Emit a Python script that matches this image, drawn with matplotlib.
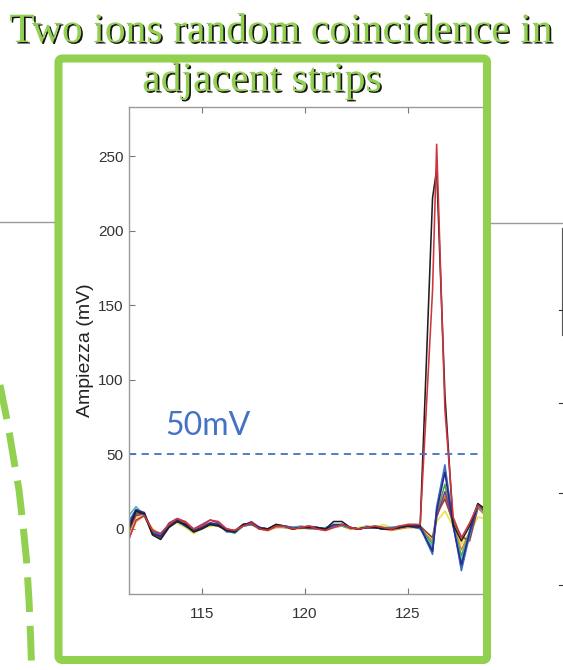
import matplotlib
matplotlib.use('Agg')
import matplotlib.pyplot as plt
from matplotlib.patches import FancyBboxPatch
import matplotlib.patheffects as pe

# ---------------- data ----------------
t = [111.4, 111.8, 112.2, 112.6, 113.0, 113.4, 113.8, 114.2, 114.6, 115.0,
     115.4, 115.8, 116.2, 116.6, 117.0, 117.4, 117.8, 118.2, 118.6, 119.0,
     119.4, 119.8, 120.2, 120.6, 121.0, 121.4, 121.8, 122.2, 122.6, 123.0,
     123.4, 123.8, 124.2, 124.6, 125.0, 125.4,
     125.6, 126.2, 126.4, 126.8, 127.2, 127.6, 128.0, 128.4, 128.7]

red = [-9, 6, 9, -1, -3, 3, 7, 5, 0, 2, 6, 5, 0, -1, 2, 4, 0, -1, 2, 2, 0, 1, 2, 0, -1, 1, 3, 1, 0, 1, 2, 1, 0, 2, 3, 3,
       3, 160, 258, 80, 8, -6, 4, 16, 12]
black = [-2, 12, 10, -4, -7, 1, 5, 3, -2, 0, 3, 2, -1, -2, 3, 4, 0, 0, 3, 2, 0, 1, 1, 1, 0, 5, 5, 1, 0, 1, 1, 0, 0, 1, 2, 2,
         2, 222, 241, 90, 3, -8, 2, 17, 14]
navy = [1, 13, 11, -3, -5, 2, 6, 2, -1, 1, 4, 3, -1, -2, 3, 4, 1, 0, 3, 2, 0, 1, 1, 1, 0, 3, 3, 1, 0, 1, 1, 0, 0, 1, 2, 1,
        1, -15, 12, 38, 2, -24, -2, 16, 13]
blue = [4, 13, 10, -2, -4, 2, 5, 2, -2, 1, 3, 3, -2, -2, 2, 3, 1, 0, 2, 2, 1, 1, 1, 0, 0, 2, 3, 1, 0, 1, 1, 0, 1, 1, 2, 1,
        1, -17, 15, 43, 3, -28, -4, 17, 12]
cyan = [8, 15, 9, -3, -3, 3, 5, 2, -1, 2, 4, 3, -1, -3, 2, 4, 0, 0, 3, 1, 1, 2, 1, 0, 1, 2, 2, 1, 0, 2, 1, 1, 1, 2, 2, 1,
        0, -12, 13, 40, 4, -22, -1, 15, 11]
yellow = [-5, 8, 8, -1, -3, 2, 4, 1, -3, 0, 2, 2, -1, -1, 2, 3, 0, -1, 2, 1, 0, 0, 1, 0, 0, 1, 2, 0, 1, 2, 1, 3, 1, 1, 1, 1,
          0, -5, 5, 12, 2, -10, -3, 8, 7]
green = [2, 11, 10, -2, -4, 3, 6, 3, -1, 1, 3, 3, 0, -2, 2, 3, 1, 0, 2, 2, 1, 1, 1, 1, 0, 2, 2, 1, 0, 1, 2, 1, 0, 1, 2, 1,
         1, -10, 10, 30, 2, -18, -2, 15, 12]
orange = [-8, 5, 9, 0, -4, 2, 5, 3, -1, 1, 3, 2, -1, -1, 2, 3, 0, -1, 1, 1, 0, 1, 0, 0, -1, 1, 2, 0, 0, 1, 1, 0, -1, 0, 1, 1,
          0, -8, 8, 22, 3, -14, -2, 14, 10]
purple = [-1, 9, 10, -2, -5, 4, 7, 4, 0, 3, 6, 4, 0, -2, 2, 5, 1, 0, 2, 2, 1, 1, 2, 1, 0, 2, 3, 1, 0, 1, 1, 0, 0, 1, 2, 2,
          2, -14, 8, 25, 5, -26, -3, 16, 12]
brown = [-4, 10, 11, -3, -6, 2, 6, 3, -1, 1, 4, 3, 0, -1, 3, 4, 0, 0, 2, 2, 0, 1, 1, 0, 0, 2, 3, 1, 0, 1, 1, 0, 0, 1, 3, 3,
         2, -6, 10, 20, 5, -5, -8, 14, 13]

series = [yellow, orange, green, brown, purple, cyan, blue, navy, black, red]
colors = ['#e6e34a', '#e0892a', '#4aa84a', '#8a4a3a', '#8a3a8a',
          '#3fb8c8', '#3a6fc4', '#2a2a8a', '#1e1e1e', '#d0343f']

xticks = [115, 120, 125]
yticks = [0, 50, 100, 150, 200, 250]
threshold = 50
threshold_label = '50mV'
ylabel = 'Ampiezza (mV)'
title_lines = ['Two ions random coincidence in', 'adjacent strips']

# ---------------- figure ----------------
W, H = 563, 670
fig = plt.figure(figsize=(W / 100, H / 100), dpi=100)
fig.patch.set_facecolor('white')

ax = fig.add_axes([129 / W, 1 - 594 / H, (483 - 129) / W, (594 - 107) / H])
for vals, c in zip(series, colors):
    ax.plot(t, vals, color=c, lw=1.15)

ax.set_xlim(111.46, 128.65)
ax.set_ylim(-43.6, 283)
ax.set_xticks(xticks)
ax.set_yticks(yticks)
ax.tick_params(direction='in', length=4, color='#777777', labelcolor='#333333',
               labelsize=11, top=True, right=False, width=0.8)
ax.tick_params(axis='x', pad=9)
ax.tick_params(axis='y', pad=4)
for s in ['left', 'bottom', 'top']:
    ax.spines[s].set_color('#9a9a9a')
    ax.spines[s].set_linewidth(1.0)
ax.spines['right'].set_visible(False)
for lab in ax.get_xticklabels() + ax.get_yticklabels():
    lab.set_family(['Liberation Sans', 'DejaVu Sans'])

ax.axhline(threshold, color='#4472c4', ls=(0, (4, 3)), lw=1.3)
ax.text(113.2, 63, threshold_label, color='#4472c4', fontsize=23,
        family=['Lato', 'DejaVu Sans'], ha='left', va='baseline')

fig.text(85 / W, 1 - 350 / H, ylabel, rotation=90, ha='center', va='center',
         fontsize=14, color='#222222', family=['Liberation Sans', 'DejaVu Sans'])

# ---------------- overlay decorations ----------------
ov = fig.add_axes([0, 0, 1, 1], zorder=5)
ov.set_xlim(0, W)
ov.set_ylim(H, 0)
ov.axis('off')
ov.patch.set_alpha(0)

frame = FancyBboxPatch((58.5, 58.5), 487 - 58.5, 660 - 58.5,
                       boxstyle='round,pad=0,rounding_size=4',
                       fill=False, ec='#92d050', lw=5.8)
ov.add_patch(frame)

# gray lines of the neighbouring slide content
ov.plot([0, 54], [222, 222], color='#9a9a9a', lw=1.0)
ov.plot([491, 563], [222.5, 222.5], color='#9a9a9a', lw=1.0)
ov.plot([561.5, 561.5], [228, 335], color='#555555', lw=0.8)
for yy in [310, 403, 493, 585]:
    ov.plot([559, 563], [yy, yy], color='#333333', lw=0.8)

# dashed green arc on the left
arc_x = [0, 3, 8, 13, 19, 23, 26.5, 29, 30.5, 31.5]
arc_y = [385, 400, 425, 455, 490, 525, 560, 600, 635, 664]
ov.plot(arc_x, arc_y, color='#92d050', lw=5.0, ls=(0, (5, 2.0)),
        solid_capstyle='butt', dash_capstyle='butt')

# title
eff = [pe.SimplePatchShadow(offset=(1.2, -1.1), shadow_rgbFace='#151515', alpha=1.0),
       pe.Normal()]
for txt, x, y in [(title_lines[0], 281, 42), (title_lines[1], 262, 91)]:
    ov.text(x, y, txt, ha='center', va='baseline', fontsize=30,
            family=['Liberation Serif', 'DejaVu Serif'], color='#92d050',
            path_effects=eff)

fig.savefig('out.png', dpi=100)
